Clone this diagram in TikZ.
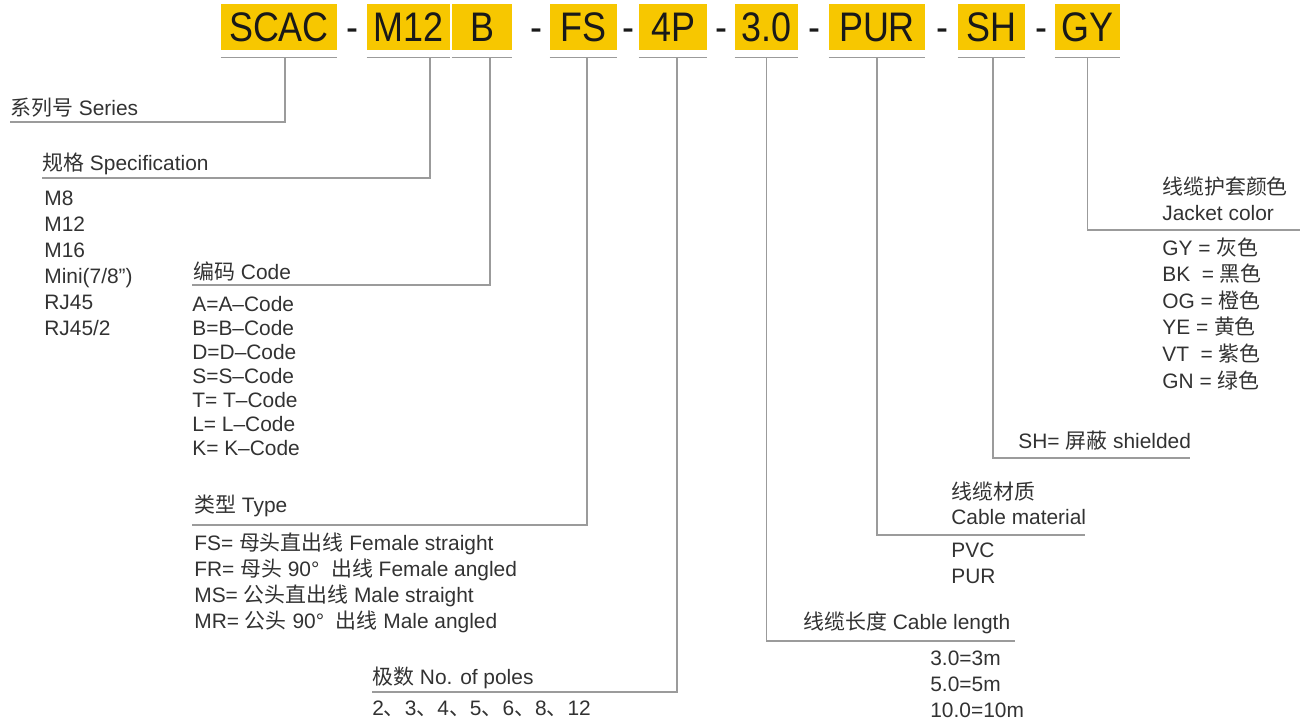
\documentclass[tikz,border=0pt]{standalone}
\usepackage{fontspec}
\setmainfont{Liberation Sans}
\newfontfamily\cjk{Noto Sans CJK SC}
\newfontfamily\codefont[FakeStretch=0.87]{Liberation Sans}
\newcommand\zh[1]{{\cjk #1}}
\definecolor{codeyellow}{RGB}{247,199,0}
\definecolor{leadgray}{RGB}{155,155,155}
\definecolor{txtgray}{RGB}{50,50,50}
\tikzset{
  codebox/.style={fill=codeyellow, minimum height=0.92cm, inner sep=0pt,
    text height=17pt, text depth=0pt,
    font=\codefont\fontsize{23.5}{26}\selectfont, text=black!90},
  hyph/.style={inner sep=0pt, minimum height=0.92cm, text height=17pt, text depth=0pt,
    font=\codefont\fontsize{23.5}{26}\selectfont, text=black!90},
  leader/.style={draw=leadgray, line width=0.9pt},
  lbl/.style={anchor=base west, inner sep=0pt, text=txtgray,
    font=\fontsize{11.9}{14}\selectfont},
}

\begin{document}
\begin{tikzpicture}[x=0.02cm,y=-0.02cm]
\useasboundingbox (0,0) rectangle (1300,721);

% order code
\node [codebox,minimum width=2.32cm] (scac) at (279,27) {SCAC};
\node [hyph] (d1) at (352,27) {-};
\node [codebox,minimum width=1.66cm] (m12) at (408.5,27) {M12};
\node [codebox,minimum width=1.2cm] (b) at (482,27) {B};
\node [hyph] (d2) at (536,27) {-};
\node [codebox,minimum width=1.34cm] (fs) at (583.5,27) {FS};
\node [hyph] (d3) at (628,27) {-};
\node [codebox,minimum width=1.36cm] (pp) at (673,27) {4P};
\node [hyph] (d4) at (721,27) {-};
\node [codebox,minimum width=1.26cm] (len) at (766.5,27) {3.0};
\node [hyph] (d5) at (814,27) {-};
\node [codebox,minimum width=1.92cm] (mat) at (877,27) {PUR};
\node [hyph] (d6) at (942,27) {-};
\node [codebox,minimum width=1.34cm] (sh) at (991.5,27) {SH};
\node [hyph] (d7) at (1041,27) {-};
\node [codebox,minimum width=1.3cm] (gy) at (1087.5,27) {GY};
\foreach \b in {scac,m12,b,fs,pp,len,mat,sh,gy}
  \draw [leader] ([yshift=-0.14cm]\b.south west) -- ([yshift=-0.14cm]\b.south east);

% series
\node [lbl] (ser) at (10,115) {\zh{系列号} Series};
\coordinate (serL) at (10,122);
\draw [leader] ([xshift=0.12cm,yshift=-0.14cm]scac.south) |- (serL);

% specification
\node [lbl] (spec) at (42,170) {\zh{规格} Specification};
\coordinate (specL) at (42,178);
\draw [leader] ([xshift=0.43cm,yshift=-0.14cm]m12.south) |- (specL);
\foreach \t [count=\i] in {M8,M12,M16,{Mini(7/8")},RJ45,{RJ45/2}}
  \node [lbl] (spec\i) at (44,{205+26*(\i-1)}) {\t};

% code
\node [lbl] (code) at (193,279) {\zh{编码} Code};
\coordinate (codeL) at (192,285);
\draw [leader] ([xshift=0.16cm,yshift=-0.14cm]b.south) |- (codeL);
\foreach \t [count=\i] in {A=A--Code,B=B--Code,D=D--Code,S=S--Code,T= T--Code,L= L--Code,K= K--Code}
  \node [lbl] (code\i) at (192,{311+24*(\i-1)}) {\t};

% type
\node [lbl] (type) at (194,512) {\zh{类型} Type};
\coordinate (typeL) at (192,525);
\draw [leader] ([xshift=0.07cm,yshift=-0.14cm]fs.south) |- (typeL);
\foreach \t [count=\i] in {FS= \zh{母头直出线} Female straight,
                           FR= \zh{母头} 90°\ \ \zh{出线} Female angled,
                           MS= \zh{公头直出线} Male straight,
                           MR= \zh{公头} 90°\ \ \zh{出线} Male angled}
  \node [lbl] (type\i) at (194,{550+26.3*(\i-1)}) {\t};

% poles
\node [lbl] (poles) at (372,684) {\zh{极数} No. of poles};
\coordinate (polesL) at (372,692);
\draw [leader] ([xshift=0.08cm,yshift=-0.14cm]pp.south) |- (polesL);
\node [lbl] (poles1) at (372,715) {2\zh{、}3\zh{、}4\zh{、}5\zh{、}6\zh{、}8\zh{、}12};

% cable length
\node [lbl] (clen) at (803,629) {\zh{线缆长度} Cable length};
\coordinate (clenR) at (1015,641);
\draw [leader] ([yshift=-0.14cm]len.south) |- (clenR);
\foreach \t [count=\i] in {3.0=3m,5.0=5m,10.0=10m}
  \node [lbl] (clen\i) at (930,{665+26*(\i-1)}) {\t};

% cable material
\node [lbl] (cmat) at (951,499) {\zh{线缆材质}};
\node [lbl] (cmat0) at (951,524) {Cable material};
\coordinate (cmatR) at (1085,535);
\draw [leader] ([yshift=-0.14cm]mat.south) |- (cmatR);
\node [lbl] (cmat1) at (951,557) {PVC};
\node [lbl] (cmat2) at (951,583) {PUR};

% shielding
\node [lbl] (shd) at (1018,448) {SH= \zh{屏蔽} shielded};
\coordinate (shdR) at (1190,458);
\draw [leader] ([xshift=0.03cm,yshift=-0.14cm]sh.south) |- (shdR);

% jacket color
\node [lbl] (jac) at (1162,194) {\zh{线缆护套颜色}};
\node [lbl] (jac0) at (1162,220) {Jacket color};
\coordinate (jacR) at (1300,230);
\draw [leader] ([yshift=-0.14cm]gy.south) |- (jacR);
\foreach \t [count=\i] in {GY = \zh{灰色},BK\ \ = \zh{黑色},OG = \zh{橙色},
                           YE = \zh{黄色},VT\ \ = \zh{紫色},GN = \zh{绿色}}
  \node [lbl] (jac\i) at (1162,{255+26.6*(\i-1)}) {\t};
\end{tikzpicture}
\end{document}
